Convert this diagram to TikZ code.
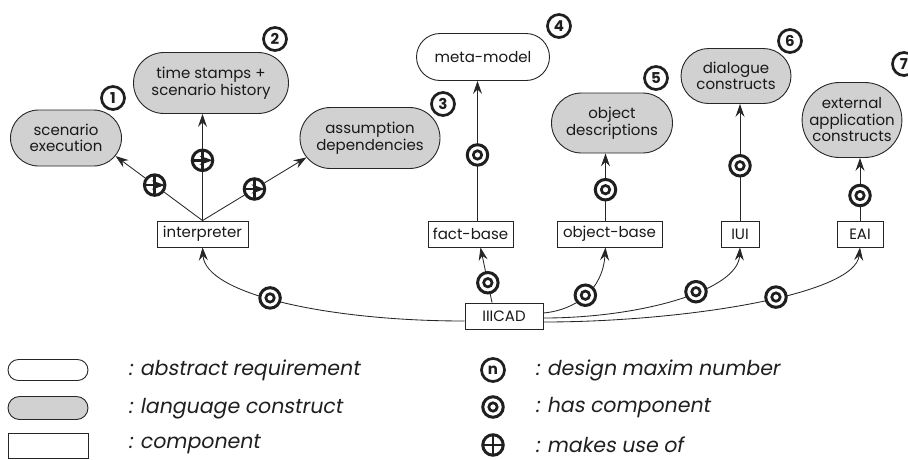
\documentclass[tikz,border=0pt]{standalone}
\usepackage{fontspec}
\setmainfont{Poppins}
\newfontfamily\legendfont[FakeSlant=0.18]{Poppins}
\usetikzlibrary{arrows.meta,shapes.misc}

\definecolor{ink}{gray}{0.15}
\definecolor{shade}{gray}{0.82}

\tikzset{
  boxfont/.style={font=\fontsize{15}{16.5}\selectfont, text=black!90},
  pill/.style={rounded rectangle, draw=ink, line width=0.9pt, align=center,
    inner sep=0pt, boxfont},
  construct/.style={pill, fill=shade},
  requirement/.style={pill, fill=white},
  comp/.style={rectangle, draw=ink, line width=0.9pt, inner sep=0pt,
    minimum height=26pt, fill=white, boxfont},
  link/.style={draw=ink, line width=0.85pt},
  arr/.style={link, -{Stealth[length=13pt,width=9pt,inset=4.5pt]}},
  hascomp/.style={circle, draw=black!88, line width=3pt, minimum size=20.5pt,
    inner sep=0pt, fill=white,
    path picture={\draw[black!88, line width=2.7pt]
      (path picture bounding box.center) circle (4.2pt);}},
  usesym/.style={circle, draw=black!88, line width=3pt, minimum size=20.5pt,
    inner sep=0pt, fill=white,
    path picture={\draw[black!88, line width=2.6pt]
      (path picture bounding box.north) -- (path picture bounding box.south)
      (path picture bounding box.west) -- (path picture bounding box.east);}},
  maxim/.style={circle, draw=black!88, line width=2.7pt, minimum size=23pt,
    inner sep=0pt, fill=white, text=black!88,
    font=\bfseries\fontsize{15}{15}\selectfont},
  legend/.style={inner sep=0pt, anchor=west, text=black!88,
    font=\legendfont\fontsize{20.5}{22}\selectfont},
}

\begin{document}
\begin{tikzpicture}[x=1pt, y=-1pt]
\useasboundingbox (0,0) rectangle (908,459);

% language constructs and abstract requirements
\node[construct, minimum width=111pt, minimum height=56pt] (se) at (66,138) {scenario\\execution};
\node[construct, minimum width=155pt, minimum height=61pt] (ts) at (211,83) {time stamps +\\scenario history};
\node[construct, minimum width=140pt, minimum height=61pt] (ad) at (370,138) {assumption\\dependencies};
\node[requirement, minimum width=133pt, minimum height=47pt] (mm) at (483,57) {meta-model};
\node[construct, minimum width=121pt, minimum height=60pt] (od) at (612,123) {object\\descriptions};
\node[construct, minimum width=110pt, minimum height=55pt] (dc) at (736,76) {dialogue\\constructs};
\node[construct, minimum width=98pt, minimum height=75pt] (ea) at (852,120) {external\\application\\constructs};

% design maxim numbers
\node[maxim] (n1) at (113,98) {1};
\node[maxim] (n2) at (275,39) {2};
\node[maxim] (n3) at (443,104) {3};
\node[maxim] (n4) at (559,26) {4};
\node[maxim] (n5) at (656,78) {5};
\node[maxim] (n6) at (790,41) {6};
\node[maxim] (n7) at (904,64) {7};

% components
\node[comp, minimum width=91pt] (interp) at (202.5,234) {interpreter};
\node[comp, minimum width=85pt] (fb) at (470.5,234) {fact-base};
\node[comp, minimum width=105pt] (ob) at (609.5,234) {object-base};
\node[comp, minimum width=38pt] (iui) at (740,234) {IUI};
\node[comp, minimum width=46pt] (eai) at (860,234) {EAI};
\node[comp, minimum width=78pt] (iiicad) at (504,316) {IIICAD};

% interpreter makes use of
\draw[arr] (interp.north) -- (se.-20) node[usesym, pos=0.55] {};
\draw[arr] (interp.north) -- (interp.north |- ts.south) node[usesym, pos=0.565] {};
\draw[arr] (interp.north) -- (ad.197) node[usesym, pos=0.5] {};

% components have components
\draw[arr] ([xshift=7pt]fb.north) -- ([xshift=7pt]fb.north |- mm.south) node[hascomp, pos=0.47] {};
\draw[arr] ([xshift=-4pt]ob.north) -- ([xshift=-4pt]ob.north |- od.south) node[hascomp, pos=0.46] {};
\draw[arr] (iui.north) -- (iui.north |- dc.south) node[hascomp, pos=0.47] {};
\draw[arr] (eai.north) -- (eai.north |- ea.south) node[hascomp, pos=0.4] {};

% IIICAD has components
\draw[arr] ([yshift=-5pt]iiicad.west) .. controls +(-135,0) and +(3,47) .. (interp.south)
  node[hascomp, pos=0.55] {};
\draw[arr] ([xshift=-12pt]iiicad.north) -- ([xshift=10pt]fb.south) node[hascomp, pos=0.36] {};
\draw[arr] ([yshift=3pt]iiicad.east) .. controls +(32,-3) and +(-3,43) .. ([xshift=-4pt]ob.south)
  node[hascomp, pos=0.5] {};
\draw[arr] ([yshift=-2pt]iiicad.east) .. controls +(97,0) and +(-2,43) .. (iui.south)
  node[hascomp, pos=0.59] {};
\draw[arr] ([yshift=-6pt]iiicad.east) .. controls +(137,0) and +(-5,48) .. (eai.south)
  node[hascomp, pos=0.57] {};

% legend
\node[requirement, minimum width=80pt, minimum height=21pt] (lgreq) at (48,370) {};
\node[construct, minimum width=80pt, minimum height=23pt] (lgcon) at (48,408) {};
\node[comp, minimum width=80pt, minimum height=25pt] (lgcomp) at (48,445.5) {};
\node[legend] (lgreqt) at (128,370) {: abstract requirement};
\node[legend] (lgcont) at (128,409) {: language construct};
\node[legend] (lgcompt) at (128,444) {: component};

\node[maxim] (lgmax) at (493,370) {n};
\node[hascomp] (lghas) at (493,407) {};
\node[usesym] (lguse) at (493,445) {};
\node[legend] (lgmaxt) at (535,370) {: design maxim number};
\node[legend] (lghast) at (535,408) {: has component};
\node[legend] (lguset) at (535,445) {: makes use of};
\end{tikzpicture}
\end{document}
